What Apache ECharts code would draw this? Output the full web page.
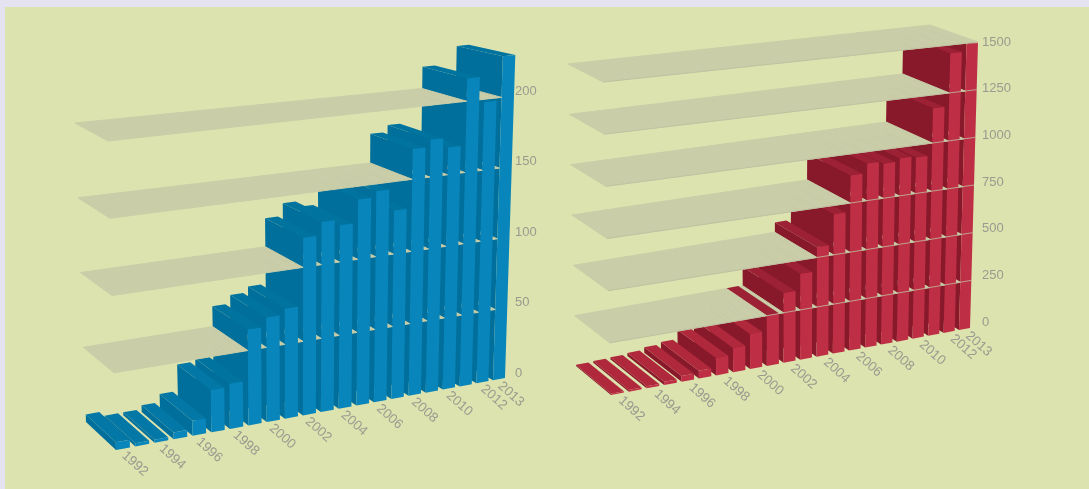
<!DOCTYPE html>
<html><head><meta charset="utf-8">
<style>
html,body{margin:0;padding:0;width:1089px;height:489px;background:#e5e3f1;overflow:hidden}
#panel{position:absolute;left:5px;top:7px;width:1084px;height:482px;background:#dce3ae}
#chart{position:absolute;left:0;top:0;width:1089px;height:489px}
</style>
<script src="https://cdn.jsdelivr.net/npm/echarts@6/dist/echarts.min.js"></script>
</head><body><div id="panel"></div><div id="chart"></div>
<script>
var years = ['1992','1993','1994','1995','1996','1997','1998','1999','2000','2001','2002','2003','2004','2005','2006','2007','2008','2009','2010','2011','2012','2013'];
var yearLabels = ['1992','1994','1996','1998','2000','2002','2004','2006','2008','2010','2012','2013'];
var blueValues = [5,2,2,4.5,10,28,30,64,70,74,120,129,125,141,145,130,171,176,169,216,198,229];
var redValues = [6,8,10,16,28,38,85,120,174,252,349,431,552,705,890,939,927,943,936,1180,1457,1495];
var blueLevels = [50,100,150,200];
var redLevels = [250,500,750,1000,1250,1500];

var blueView = {ref:200, FL0:[116,450],FL1:[108,141],BL0:[86,422],BL1:[75,123],FR0:[505,378],FR1:[514,96],BR0:[462,354],BR1:[468,84],
  front:'#0885ba',side:'#006f9b',top:'#00749f',topLow:'#0378a6',plane:'#c9cda8',edge:null,labelPersp:1.05,labelDx:1};
var redView = {ref:1500, FL0:[611,395],FL1:[603,82],BL0:[576,366],BL1:[568,64],FR0:[970,328],FR1:[978,42],BR0:[923,299],BR1:[930,25],
  front:'#be2f45',side:'#88192b',top:'#9c2135',topLow:'#b0283c',plane:'#c9cda8',edge:'rgba(190,190,160,0.8)',labelPersp:1.085,labelDx:3};
var FILL = 0.72, PERSP = 1.085, N = years.length;

function lerp(a,b,t){return [a[0]+(b[0]-a[0])*t,a[1]+(b[1]-a[1])*t];}
function project(view,u,w,t,persp){
  var a = persp||PERSP;
  var uu = a*u/(1+(a-1)*u);
  var f0=lerp(view.FL0,view.FR0,uu), f1=lerp(view.FL1,view.FR1,uu);
  var b0=lerp(view.BL0,view.BR0,uu), b1=lerp(view.BL1,view.BR1,uu);
  return lerp(lerp(f0,f1,t),lerp(b0,b1,t),w);
}
function poly(points,fill,seam){
  return {type:'polygon',silent:true,shape:{points:points},
    style:{fill:fill,stroke:seam?fill:null,lineWidth:seam?1:0}};
}
function quadU(view,u0,u1,t,fill){
  return poly([project(view,u0,1,t),project(view,u1,1,t),project(view,u1,0,t),project(view,u0,0,t)],fill,true);
}
function makeRender(view,levels){
  return function(params,api){
    var g=params.coordSys, i=api.value(0), v=api.value(1);
    var base=api.coord([i,0]), band=api.size([1,0])[0];
    var span=band*(N-1+FILL);
    var left=g.x+(band*(1-FILL))/2;
    var toU=function(px){return (px-left)/span;};
    var u0=toU(base[0]-band*FILL/2), u1=toU(base[0]+band*FILL/2);
    var uPrev=toU(base[0]-band+band*FILL/2);
    var perUnit=(base[1]-api.coord([i,view.ref])[1]);
    var t=(base[1]-api.coord([i,v])[1])/perUnit;
    var kids=[];
    kids.push(poly([project(view,u0,1,0),project(view,u0,0,0),project(view,u0,0,t),project(view,u0,1,t)],view.side));
    kids.push(poly([project(view,u0,1,t),project(view,u1,1,t),project(view,u1,0,t),project(view,u0,0,t)],t<0.15?view.topLow:view.top));
    kids.push(poly([project(view,u0,0,0),project(view,u1,0,0),project(view,u1,0,t),project(view,u0,0,t)],view.front));
    levels.forEach(function(lv){
      var lt=(base[1]-api.coord([i,lv])[1])/perUnit;
      if(lv>v) kids.push(quadU(view,u0,u1,lt,view.plane));
      if(i>0) kids.push(quadU(view,uPrev,u0,lt,view.plane));
    });
    if(yearLabels.indexOf(years[i])>=0){
      var p=project(view,(u0+u1)/2,0,0,view.labelPersp);
      kids.push({type:'text',silent:true,x:p[0]+view.labelDx,y:p[1]+5,rotation:-42*Math.PI/180,
        style:{text:years[i],fill:'#9a9b90',font:'13.5px "Liberation Sans"',align:'left',verticalAlign:'middle',
               textAlign:'left',textVerticalAlign:'middle'}});
    }
    return {type:'group',children:kids};
  };
}
function edgeRender(view){
  return function(params,api){
    var base=api.coord([0,0]);
    var t=(base[1]-api.coord([0,api.value(1)])[1])/(base[1]-api.coord([0,view.ref])[1]);
    var a=project(view,0,0,t), b=project(view,1,0,t);
    return {type:'line',silent:true,shape:{x1:a[0],y1:a[1],x2:b[0],y2:b[1]},
      style:{stroke:view.edge,lineWidth:1}};
  };
}
function reversed(values){
  return values.map(function(v,i){return [i,v];}).reverse();
}
function yAxis(idx,max,interval,hideMax){
  return {type:'value',gridIndex:idx,position:'right',min:0,max:max,interval:interval,
    axisLine:{show:false},axisTick:{show:false},splitLine:{show:false},
    axisLabel:{margin:0,color:'#9a9b90',fontFamily:'Liberation Sans',fontSize:13,showMaxLabel:!hideMax,
      formatter:function(val){return String(val);}}};
}
var chart=echarts.init(document.getElementById('chart'),null,{renderer:'canvas'});
chart.setOption({
  animation:false,
  grid:[
    {left:117,width:398,top:20.5,height:352.5},
    {left:611,width:371,top:42,height:280}
  ],
  xAxis:[
    {type:'category',gridIndex:0,data:years,show:false},
    {type:'category',gridIndex:1,data:years,show:false}
  ],
  yAxis:[yAxis(0,250,50,true),yAxis(1,1500,250,false)],
  series:[
    {type:'custom',xAxisIndex:0,yAxisIndex:0,renderItem:makeRender(blueView,blueLevels),data:reversed(blueValues),encode:{x:0,y:1},clip:false,silent:true},
    {type:'custom',xAxisIndex:1,yAxisIndex:1,renderItem:makeRender(redView,redLevels),data:reversed(redValues),encode:{x:0,y:1},clip:false,silent:true},
    {type:'custom',xAxisIndex:1,yAxisIndex:1,z:5,renderItem:edgeRender(redView),data:redLevels.map(function(l){return [0,l];}),encode:{x:0,y:1},clip:false,silent:true}
  ]
});
</script></body></html>
